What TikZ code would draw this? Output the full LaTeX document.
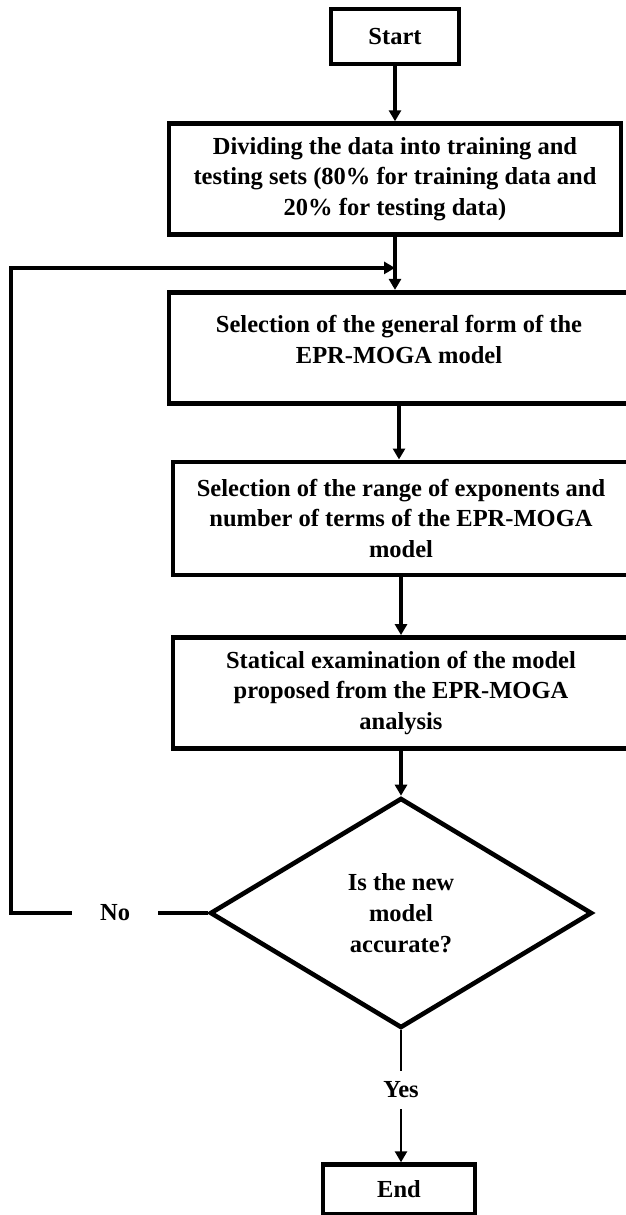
\documentclass[tikz,border=0pt]{standalone}
\usepackage{fontspec}
\setmainfont{Liberation Serif}
\usepackage{tikz}
\usetikzlibrary{shapes.geometric, arrows.meta, positioning}

\begin{document}
\begin{tikzpicture}[
  x=1pt, y=1pt,
  font=\bfseries\fontsize{24.5}{30.7}\selectfont,
  box/.style={rectangle, draw=black, line width=4.6pt, fill=white,
              align=center, inner sep=0pt, minimum height=111pt},
  termbox/.style={rectangle, draw=black, line width=4.6pt, fill=white,
              align=center, inner sep=0pt},
  decision/.style={diamond, draw=black, line width=4.6pt, fill=white,
              align=center, inner sep=0pt, minimum width=382pt, minimum height=230pt},
  gaplabel/.style={fill=white, inner xsep=28pt, inner ysep=11pt},
  arrow/.style={-{Triangle[length=11pt,width=12pt]}, line width=3.6pt}
]
\useasboundingbox (0,0) rectangle (625,-1215);

\node[termbox, minimum width=128pt, minimum height=55pt] (start) at (395,-36.5) {Start};
\node[box, minimum width=452pt, below=55pt of start] (divide)
  {Dividing the data into training and\\testing sets (80\% for training data and\\20\% for testing data)};
\node[box, minimum width=460pt, text depth=17pt, below=53pt of divide, xshift=4pt] (general)
  {Selection of the general form of the\\EPR-MOGA model};
\node[box, minimum width=456pt, minimum height=113pt, below=54pt of general, xshift=2pt] (range)
  {Selection of the range of exponents and\\number of terms of the EPR-MOGA\\model};
\node[box, minimum width=456pt, below=58pt of range] (exam)
  {Statical examination of the model\\proposed from the EPR-MOGA\\analysis};
\node[decision, below=45pt of exam] (decide) {Is the new\\model\\accurate?};
\node[termbox, minimum width=152pt, minimum height=50pt, below=132pt of decide, xshift=-2pt] (finish) {End};

\draw[arrow] (start) -- (divide);
\draw[arrow] (divide) -- coordinate[pos=0.585] (merge) (divide.south |- general.north);
\draw[arrow] (general) -- (general.south |- range.north);
\draw[arrow] (range) -- (exam);
\draw[arrow] (exam) -- (decide);
\draw[arrow, line width=2.5pt] (decide) -- node[gaplabel, pos=0.45, inner xsep=2pt]{Yes} (decide.south |- finish.north);
\draw[arrow] (decide.west) -- node[gaplabel, pos=0.47]{No} ++(-197,0) |- (merge);
\end{tikzpicture}
\end{document}
